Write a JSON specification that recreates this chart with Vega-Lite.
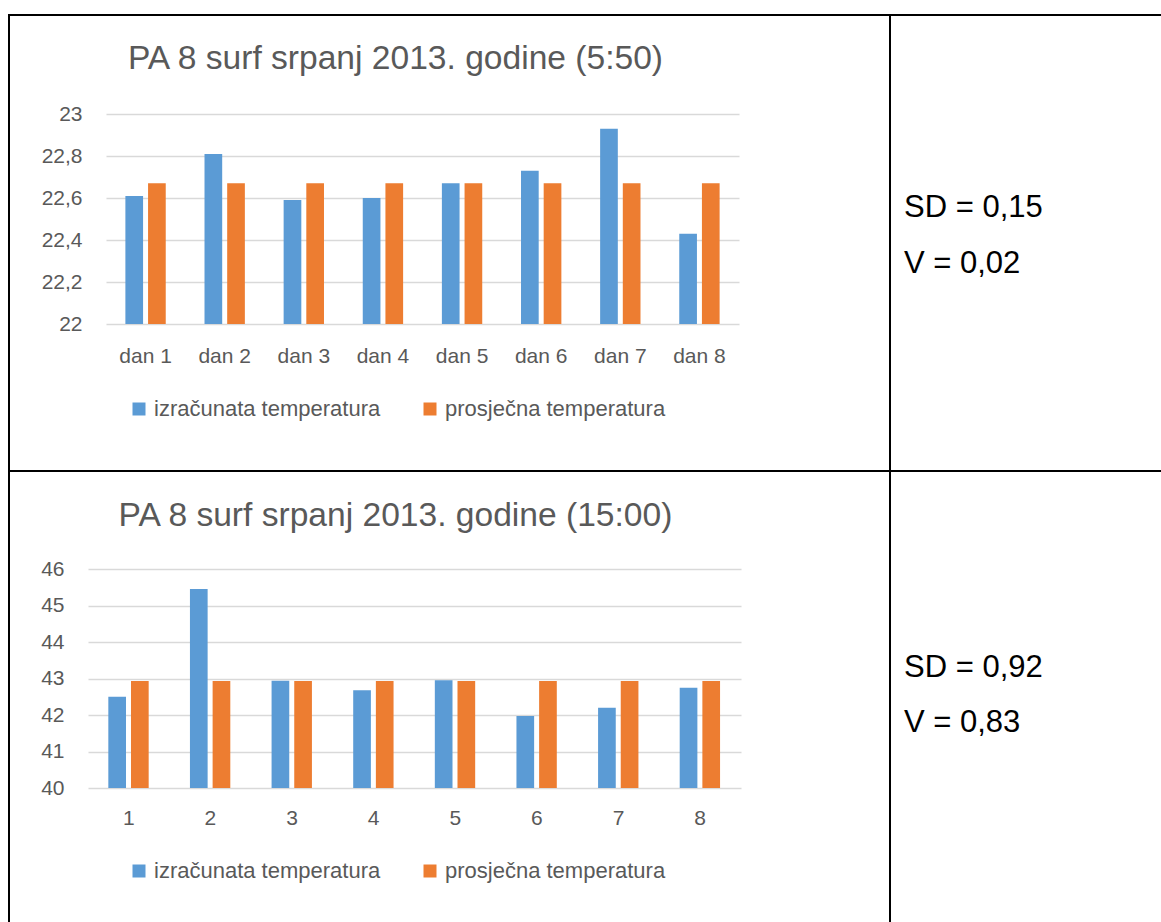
{
  "$schema": "https://vega.github.io/schema/vega-lite/v6.json",
  "padding": {"left": 8, "top": 14, "right": 0, "bottom": 0},
  "background": "white",
  "spacing": 0,
  "bounds": "flush",
  "columns": 2,
  "datasets": {
    "c1": [
      {"day": "dan 1", "series": "izračunata temperatura", "value": 22.61},
      {"day": "dan 1", "series": "prosječna temperatura", "value": 22.67},
      {"day": "dan 2", "series": "izračunata temperatura", "value": 22.81},
      {"day": "dan 2", "series": "prosječna temperatura", "value": 22.67},
      {"day": "dan 3", "series": "izračunata temperatura", "value": 22.59},
      {"day": "dan 3", "series": "prosječna temperatura", "value": 22.67},
      {"day": "dan 4", "series": "izračunata temperatura", "value": 22.60},
      {"day": "dan 4", "series": "prosječna temperatura", "value": 22.67},
      {"day": "dan 5", "series": "izračunata temperatura", "value": 22.67},
      {"day": "dan 5", "series": "prosječna temperatura", "value": 22.67},
      {"day": "dan 6", "series": "izračunata temperatura", "value": 22.73},
      {"day": "dan 6", "series": "prosječna temperatura", "value": 22.67},
      {"day": "dan 7", "series": "izračunata temperatura", "value": 22.93},
      {"day": "dan 7", "series": "prosječna temperatura", "value": 22.67},
      {"day": "dan 8", "series": "izračunata temperatura", "value": 22.43},
      {"day": "dan 8", "series": "prosječna temperatura", "value": 22.67}
    ],
    "c2": [
      {"day": "1", "series": "izračunata temperatura", "value": 42.50},
      {"day": "1", "series": "prosječna temperatura", "value": 42.93},
      {"day": "2", "series": "izračunata temperatura", "value": 45.45},
      {"day": "2", "series": "prosječna temperatura", "value": 42.93},
      {"day": "3", "series": "izračunata temperatura", "value": 42.94},
      {"day": "3", "series": "prosječna temperatura", "value": 42.93},
      {"day": "4", "series": "izračunata temperatura", "value": 42.68},
      {"day": "4", "series": "prosječna temperatura", "value": 42.93},
      {"day": "5", "series": "izračunata temperatura", "value": 42.95},
      {"day": "5", "series": "prosječna temperatura", "value": 42.93},
      {"day": "6", "series": "izračunata temperatura", "value": 41.97},
      {"day": "6", "series": "prosječna temperatura", "value": 42.93},
      {"day": "7", "series": "izračunata temperatura", "value": 42.20},
      {"day": "7", "series": "prosječna temperatura", "value": 42.93},
      {"day": "8", "series": "izračunata temperatura", "value": 42.75},
      {"day": "8", "series": "prosječna temperatura", "value": 42.93}
    ],
    "t1": [
      {"k": 1, "t": "SD = 0,15"},
      {"k": 2, "t": "V = 0,02"}
    ],
    "t2": [
      {"k": 1, "t": "SD = 0,92"},
      {"k": 2, "t": "V = 0,83"}
    ]
  },
  "concat": [
    {
      "width": 881,
      "height": 456,
      "data": {"name": "c1"},
      "title": {
        "text": "PA 8 surf srpanj 2013. godine (5:50)",
        "anchor": "middle",
        "dx": -54,
        "offset": -88,
        "baseline": "alphabetic"
      },
      "mark": {"type": "bar"},
      "encoding": {
        "x": {
          "field": "day", "type": "nominal", "sort": null,
          "scale": {"range": [97, 730], "paddingInner": 0.49, "paddingOuter": 0.245},
          "axis": {"orient": "bottom", "offset": -147, "labelPadding": 21, "title": null, "labelAngle": 0, "grid": false, "domain": false, "ticks": false}
        },
        "xOffset": {"field": "series", "sort": null, "scale": {"paddingInner": 0.22, "paddingOuter": 0}},
        "y": {
          "field": "value", "type": "quantitative",
          "scale": {"domain": [22, 23], "range": [309, 99], "zero": false, "nice": false},
          "axis": {"orient": "left", "offset": -97, "labelPadding": 24, "values": [22, 22.2, 22.4, 22.6, 22.8, 23], "labelExpr": "replace(format(datum.value, '~g'), '.', ',')", "title": null, "domain": false, "ticks": false}
        },
        "y2": {"datum": 22},
        "color": {
          "field": "series", "type": "nominal", "sort": null,
          "scale": {"range": ["#5b9bd5", "#ed7d31"]},
          "legend": {"orient": "none", "legendX": 119, "legendY": 383, "direction": "horizontal", "title": null}
        }
      }
    },
    {
      "width": 272,
      "height": 456,
      "data": {"name": "t1"},
      "mark": {"type": "text", "align": "left", "baseline": "alphabetic", "font": "Liberation Sans", "fontSize": 31, "color": "#000000"},
      "encoding": {
        "x": {"datum": 0, "type": "quantitative", "scale": {"domain": [0, 1], "range": [14, 272]}, "axis": null},
        "y": {"field": "k", "type": "ordinal", "scale": {"type": "point", "range": [202, 258], "padding": 0}, "axis": null},
        "text": {"field": "t"}
      }
    },
    {
      "width": 881,
      "height": 456,
      "data": {"name": "c2"},
      "title": {
        "text": "PA 8 surf srpanj 2013. godine (15:00)",
        "anchor": "middle",
        "dx": -54,
        "offset": -89,
        "baseline": "alphabetic"
      },
      "mark": {"type": "bar"},
      "encoding": {
        "x": {
          "field": "day", "type": "nominal", "sort": null,
          "scale": {"range": [79, 732], "paddingInner": 0.498, "paddingOuter": 0.249},
          "axis": {"orient": "bottom", "offset": -139, "labelPadding": 19, "title": null, "labelAngle": 0, "grid": false, "domain": false, "ticks": false}
        },
        "xOffset": {"field": "series", "sort": null, "scale": {"paddingInner": 0.22, "paddingOuter": 0}},
        "y": {
          "field": "value", "type": "quantitative",
          "scale": {"domain": [40, 46], "range": [317, 98], "zero": false, "nice": false},
          "axis": {"orient": "left", "offset": -79, "labelPadding": 24, "values": [40, 41, 42, 43, 44, 45, 46], "labelExpr": "replace(format(datum.value, '~g'), '.', ',')", "title": null, "domain": false, "ticks": false}
        },
        "y2": {"datum": 40},
        "color": {
          "field": "series", "type": "nominal", "sort": null,
          "scale": {"range": ["#5b9bd5", "#ed7d31"]},
          "legend": {"orient": "none", "legendX": 119, "legendY": 389, "direction": "horizontal", "title": null}
        }
      }
    },
    {
      "width": 272,
      "height": 456,
      "data": {"name": "t2"},
      "mark": {"type": "text", "align": "left", "baseline": "alphabetic", "font": "Liberation Sans", "fontSize": 31, "color": "#000000"},
      "encoding": {
        "x": {"datum": 0, "type": "quantitative", "scale": {"domain": [0, 1], "range": [14, 272]}, "axis": null},
        "y": {"field": "k", "type": "ordinal", "scale": {"type": "point", "range": [206, 261], "padding": 0}, "axis": null},
        "text": {"field": "t"}
      }
    }
  ],
  "resolve": {"scale": {"color": "independent"}},
  "config": {
    "view": {"stroke": "#000000", "strokeWidth": 2},
    "font": "Liberation Sans",
    "title": {"font": "Liberation Sans", "fontSize": 33.6, "fontWeight": "normal", "color": "#595959"},
    "axis": {
      "labelFont": "Liberation Sans",
      "labelFontSize": 21,
      "labelColor": "#595959",
      "gridColor": "#d9d9d9",
      "gridWidth": 1.5
    },
    "legend": {
      "labelFont": "Liberation Sans",
      "labelFontSize": 22,
      "labelColor": "#595959",
      "labelLimit": 400,
      "symbolType": "square",
      "symbolSize": 169,
      "symbolStrokeWidth": 0,
      "labelOffset": 4,
      "columnPadding": 38
    }
  }
}
